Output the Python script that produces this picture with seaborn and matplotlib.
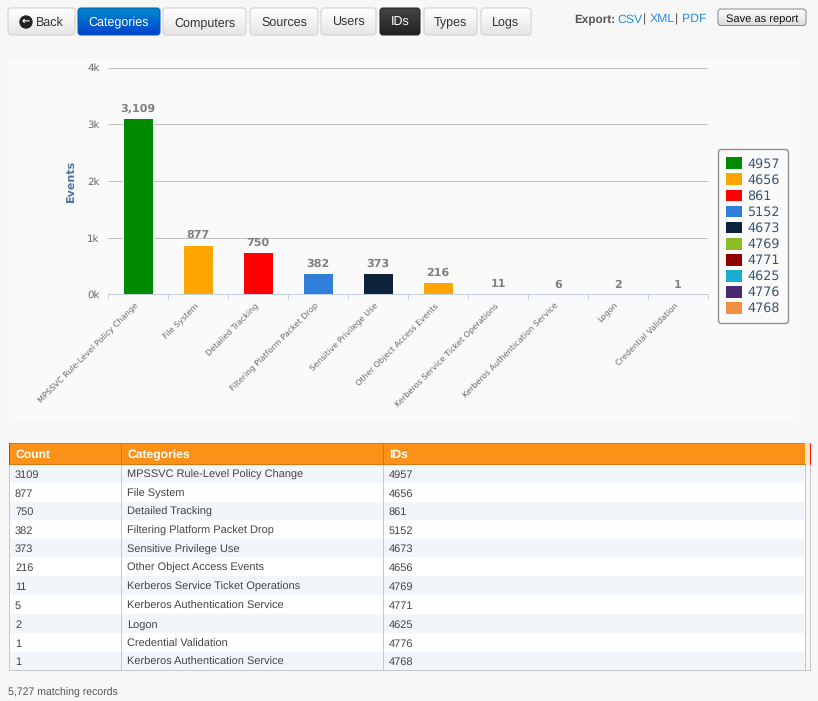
#!/usr/bin/env python3

'''
Event report page: stacked bar of events per category, with the table below it
'''

import numpy as np
import pandas as pd
import matplotlib
matplotlib.use('Agg')
import matplotlib.pyplot as plt
import seaborn as sns
from matplotlib.patches import FancyBboxPatch, Patch, Rectangle
from matplotlib.transforms import ScaledTranslation

# table rows, same order as the page
counts = [3109, 877, 750, 382, 373, 216, 11, 5, 2, 1, 1]
categories = ['MPSSVC Rule-Level Policy Change', 'File System', 'Detailed Tracking',
              'Filtering Platform Packet Drop', 'Sensitive Privilege Use',
              'Other Object Access Events', 'Kerberos Service Ticket Operations',
              'Kerberos Authentication Service', 'Logon', 'Credential Validation',
              'Kerberos Authentication Service']
ids = ['4957', '4656', '861', '5152', '4673', '4656', '4769', '4771', '4625', '4776', '4768']

# legend order and colours
legend_ids = ['4957', '4656', '861', '5152', '4673', '4769', '4771', '4625', '4776', '4768']
legend_colors = ['#008a00', '#ffa500', '#ff0000', '#2f7ed8', '#0d233a',
                 '#8bbc21', '#910000', '#1aadce', '#492970', '#f28f43']

y_ticks = [0, 1000, 2000, 3000, 4000]
y_labels = ['0k', '1k', '2k', '3k', '4k']

buttons = ['Back', 'Categories', 'Computers', 'Sources', 'Users', 'IDs', 'Types', 'Logs']
button_edges = [(8, 75), (78, 160), (163, 246), (250, 318), (321, 376), (380, 420), (424, 477), (481, 531)]
table_headers = ['Count', 'Categories', 'IDs']

PAGE_FONT = 'Liberation Sans'
CHART_FONT = 'DejaVu Sans'
PX = 0.72  # one pixel as a line width

sns.set_theme(style='white')
plt.rcParams['font.family'] = [PAGE_FONT, 'DejaVu Sans']
plt.rcParams['text.hinting'] = 'no_hinting'

df = pd.DataFrame({'category': categories, 'id': ids, 'count': counts})
cat_order = list(dict.fromkeys(categories))
df['category'] = pd.Categorical(df['category'], categories=cat_order, ordered=True)
totals = df.groupby('category', observed=False)['count'].sum()

W, H = 818, 701
fig = plt.figure(figsize=(W / 100, H / 100), dpi=100, facecolor='#f7f7f7')

# page layer in pixel coordinates
page = fig.add_axes([0, 0, 1, 1], zorder=0)
page.axis('off')


def button(x0, x1, y0, y1, label, top, bottom, edge, color, size=9, tx=None):
    box = FancyBboxPatch((x0, y0), x1 - x0, y1 - y0, boxstyle='round,pad=0,rounding_size=3',
                         facecolor='none', edgecolor=edge, linewidth=PX, zorder=3)
    page.add_patch(box)
    grad = matplotlib.colors.LinearSegmentedColormap.from_list('b', [top, bottom])
    img = page.imshow(np.linspace(0, 1, 32).reshape(-1, 1), cmap=grad, aspect='auto',
                      extent=(x0, x1, y1, y0), zorder=2)
    img.set_clip_path(box)
    page.text((x0 + x1) / 2 if tx is None else tx, (y0 + y1) / 2 + 4.5, label, color=color,
              fontsize=size, ha='center', va='baseline', zorder=4)


for name, (x0, x1) in zip(buttons, button_edges):
    if name == 'Categories':
        button(x0, x1, 8, 35, name, '#0088cc', '#0044cc', '#0a55b5', 'white')
    elif name == 'IDs':
        button(x0, x1, 8, 35, name, '#444444', '#222222', '#222222', 'white')
    elif name == 'Back':
        button(x0, x1, 8, 35, name, '#ffffff', '#e6e6e6', '#cfcfcf', '#333333', tx=50)
    else:
        button(x0, x1, 8, 35, name, '#ffffff', '#e6e6e6', '#cfcfcf', '#333333')
page.add_patch(plt.Circle((26, 22), 6, color='#222222', zorder=4))
page.text(26, 21.5, '\u2190', color='white', fontsize=7, fontweight='bold', family='DejaVu Sans',
          ha='center', va='center', zorder=5)

# export links
page.text(574, 22.5, 'Export:', fontsize=8.5, fontweight='bold', color='#555555', va='baseline')
for x, word in [(617.5, 'CSV'), (650, 'XML'), (682, 'PDF')]:
    page.text(x, 22.5, word, fontsize=8.8, color='#2a8fd8', va='baseline')
for x in [645, 677]:
    page.text(x, 22.5, '|', fontsize=8.8, color='#555555', va='baseline', ha='center')
button(718, 806, 9, 25.5, 'Save as report', '#ffffff', '#dddddd', '#888888', '#111111', size=8)

# chart background
page.add_patch(FancyBboxPatch((8, 58), 792, 360, boxstyle='round,pad=0,rounding_size=5',
                              facecolor='#fafafa', edgecolor='none', zorder=1))

# table
left, right, head_top, head_bot = 8.5, 804.5, 443, 464
col_x = [15, 127, 389]
dividers = [120.5, 382.5]
row_tops = [464, 482.5, 501.5, 519.5, 538.5, 557, 576, 595, 614, 633, 651.5, 670]
page.add_patch(Rectangle((left, head_bot), right - left, row_tops[-1] - head_bot, facecolor='white',
                         edgecolor='none', zorder=1))
for i in range(len(counts)):
    if i % 2 == 0:
        page.add_patch(Rectangle((left, row_tops[i]), right - left, row_tops[i + 1] - row_tops[i],
                                 facecolor='#f2f5fa', edgecolor='none', zorder=1.1))
    yb = (row_tops[i] + row_tops[i + 1]) / 2 + 4.5
    for x, val in zip(col_x, [str(counts[i]), categories[i], ids[i]]):
        page.text(x, yb, val, fontsize=7.9, color='#444444', va='baseline', zorder=3)
for x in dividers + [right, 809.5]:
    page.plot([x, x], [head_bot, row_tops[-1]], color='#c8c8c8', lw=PX, zorder=2)
page.plot([left, 809.5], [row_tops[-1], row_tops[-1]], color='#c8c8c8', lw=PX, zorder=2)
page.plot([left, left], [head_bot, row_tops[-1]], color='#c8c8c8', lw=PX, zorder=2)

page.add_patch(Rectangle((left, head_top), right - left, head_bot - head_top, facecolor='#fb9217',
                         edgecolor='#d9760f', linewidth=PX, zorder=2))
page.add_patch(Rectangle((right, head_top), 5, head_bot - head_top, facecolor='#fbe3c4',
                         edgecolor='none', zorder=2))
for x in dividers:
    page.plot([x, x], [head_top, head_bot], color='#d9760f', lw=PX, zorder=3)
for x in [left, 809.5]:
    page.plot([x, x], [head_top, head_bot], color='#ff1a00', lw=PX, zorder=3)
for x, label in zip(col_x, table_headers):
    page.text(x, 458, label, fontsize=8.7, fontweight='bold', color='white', va='baseline', zorder=4)

page.text(8, 696, '5,727 matching records', fontsize=7.6, color='#555555', va='baseline')
page.set_xlim(0, W)
page.set_ylim(H, 0)

# chart
ax = fig.add_axes([108 / W, 1 - 294.5 / H, 600 / W, 227 / H], zorder=2)
ax.patch.set_visible(False)
sns.histplot(data=df, x='category', weights='count', hue='id', hue_order=legend_ids,
             palette=dict(zip(legend_ids, legend_colors)), multiple='stack', discrete=True,
             shrink=0.49, alpha=1, edgecolor='white', linewidth=PX, legend=False, ax=ax)
ax.set_xlim(-0.5, 9.5)
ax.set_ylim(0, 4000)
ax.set_axisbelow(True)
ax.set_xlabel('')
ax.set_ylabel('Events', fontsize=8, fontweight='bold', color='#4d759e', family=CHART_FONT)
ax.yaxis.set_label_coords(-0.053, 0.5)
ax.set_yticks(y_ticks, y_labels, fontsize=7.4, color='#666666', family=CHART_FONT)
ax.tick_params(axis='y', length=0, pad=6)
ax.yaxis.grid(True, color='#c0c0c0', lw=PX)
ax.set_xticks(range(len(cat_order)), cat_order, rotation=45, ha='right', va='top',
              rotation_mode='anchor', fontsize=5.9, color='#666666', family=CHART_FONT)
ax.set_xticks(np.arange(-0.5, len(cat_order), 1), minor=True)
ax.tick_params(axis='x', which='major', length=0, pad=5)
ax.tick_params(axis='x', which='minor', length=3.6, width=PX, color='#c0d0e0', bottom=True)
shift = ScaledTranslation(-4 / 100, 0, fig.dpi_scale_trans)
for lab in ax.get_xticklabels():
    lab.set_transform(lab.get_transform() + shift)
for side in ['top', 'right', 'left']:
    ax.spines[side].set_visible(False)
ax.spines['bottom'].set_color('#c0d0e0')
ax.spines['bottom'].set_linewidth(PX)

for i, total in enumerate(totals):
    ax.annotate(f'{total:,}', (i, total), xytext=(0, 3), textcoords='offset points', ha='center',
                va='bottom', fontsize=8, fontweight='bold', color='#808080', family=CHART_FONT)

handles = [Patch(facecolor=c, edgecolor='none', label=l) for l, c in zip(legend_ids, legend_colors)]
ax.legend(handles=handles, loc='upper left', bbox_to_anchor=(718 / W, 1 - 149.5 / H),
          bbox_transform=fig.transFigure, borderaxespad=0, frameon=True, fancybox=True,
          facecolor='#fafafa', edgecolor='#909090', framealpha=1, handlelength=1.23,
          handleheight=1.05, handletextpad=0.45, labelspacing=0.24, borderpad=0.62,
          prop={'family': CHART_FONT, 'size': 9.2}, labelcolor='#3e576f')

fig.savefig('out.png', dpi=100, facecolor=fig.get_facecolor())
